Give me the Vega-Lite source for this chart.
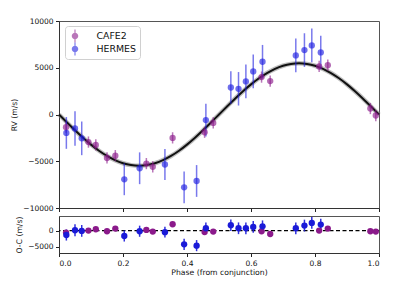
{
  "$schema": "https://vega.github.io/schema/vega-lite/v6.json",
  "padding": {"left": 10, "top": 16, "right": 15, "bottom": 14},
  "spacing": 2,
  "config": {
    "font": "DejaVu Sans",
    "view": {"stroke": "#555", "strokeWidth": 1},
    "axis": {
      "grid": false,
      "domainColor": "#333",
      "tickColor": "#222",
      "tickSize": 3.5,
      "labelFont": "DejaVu Sans",
      "labelFontSize": 7.5,
      "labelColor": "#111",
      "labelPadding": 2.5,
      "titleFont": "DejaVu Sans",
      "titleFontSize": 7.7,
      "titleFontWeight": "normal",
      "titleColor": "#111"
    }
  },
  "datasets": {
    "obs": [
      {"phase": 0.022, "rv": -1360, "err": 600, "oc": -610, "inst": "CAFE2"},
      {"phase": 0.092, "rv": -2950, "err": 600, "oc": 0, "inst": "CAFE2"},
      {"phase": 0.115, "rv": -3250, "err": 600, "oc": 400, "inst": "CAFE2"},
      {"phase": 0.150, "rv": -4650, "err": 600, "oc": -200, "inst": "CAFE2"},
      {"phase": 0.176, "rv": -4400, "err": 600, "oc": 600, "inst": "CAFE2"},
      {"phase": 0.273, "rv": -5250, "err": 600, "oc": 200, "inst": "CAFE2"},
      {"phase": 0.293, "rv": -5600, "err": 600, "oc": -300, "inst": "CAFE2"},
      {"phase": 0.355, "rv": -2500, "err": 600, "oc": 1930, "inst": "CAFE2"},
      {"phase": 0.455, "rv": -1900, "err": 600, "oc": -430, "inst": "CAFE2"},
      {"phase": 0.482, "rv": -900, "err": 600, "oc": -300, "inst": "CAFE2"},
      {"phase": 0.633, "rv": 4000, "err": 600, "oc": -200, "inst": "CAFE2"},
      {"phase": 0.660, "rv": 3570, "err": 600, "oc": -1040, "inst": "CAFE2"},
      {"phase": 0.813, "rv": 5140, "err": 600, "oc": 0, "inst": "CAFE2"},
      {"phase": 0.840, "rv": 5280, "err": 600, "oc": 600, "inst": "CAFE2"},
      {"phase": 0.973, "rv": 640, "err": 600, "oc": -200, "inst": "CAFE2"},
      {"phase": 0.990, "rv": -110, "err": 600, "oc": -300, "inst": "CAFE2"},
      {"phase": 0.023, "rv": -1970, "err": 1700, "oc": -1350, "inst": "HERMES"},
      {"phase": 0.050, "rv": -1500, "err": 1850, "oc": 100, "inst": "HERMES"},
      {"phase": 0.071, "rv": -2550, "err": 1800, "oc": -100, "inst": "HERMES"},
      {"phase": 0.204, "rv": -6930, "err": 1700, "oc": -1650, "inst": "HERMES"},
      {"phase": 0.252, "rv": -5750, "err": 1700, "oc": -200, "inst": "HERMES"},
      {"phase": 0.331, "rv": -5350, "err": 1650, "oc": -500, "inst": "HERMES"},
      {"phase": 0.391, "rv": -7790, "err": 1700, "oc": -4200, "inst": "HERMES"},
      {"phase": 0.430, "rv": -7110, "err": 1700, "oc": -4600, "inst": "HERMES"},
      {"phase": 0.459, "rv": -600, "err": 1750, "oc": 700, "inst": "HERMES"},
      {"phase": 0.537, "rv": 2890, "err": 1740, "oc": 1630, "inst": "HERMES"},
      {"phase": 0.561, "rv": 2750, "err": 1790, "oc": 700, "inst": "HERMES"},
      {"phase": 0.584, "rv": 3540, "err": 1800, "oc": 700, "inst": "HERMES"},
      {"phase": 0.607, "rv": 4610, "err": 1800, "oc": 1100, "inst": "HERMES"},
      {"phase": 0.636, "rv": 5640, "err": 1800, "oc": 1300, "inst": "HERMES"},
      {"phase": 0.740, "rv": 6320, "err": 1800, "oc": 700, "inst": "HERMES"},
      {"phase": 0.767, "rv": 6890, "err": 1800, "oc": 1530, "inst": "HERMES"},
      {"phase": 0.790, "rv": 7390, "err": 1800, "oc": 2330, "inst": "HERMES"},
      {"phase": 0.818, "rv": 6640, "err": 1790, "oc": 1840, "inst": "HERMES"}
    ],
    "model": [
      {"phase": 0.000, "rv": 0},
      {"phase": 0.025, "rv": -857},
      {"phase": 0.050, "rv": -1693},
      {"phase": 0.075, "rv": -2488},
      {"phase": 0.100, "rv": -3221},
      {"phase": 0.125, "rv": -3875},
      {"phase": 0.150, "rv": -4433},
      {"phase": 0.175, "rv": -4883},
      {"phase": 0.200, "rv": -5212},
      {"phase": 0.225, "rv": -5413},
      {"phase": 0.250, "rv": -5480},
      {"phase": 0.275, "rv": -5413},
      {"phase": 0.300, "rv": -5212},
      {"phase": 0.325, "rv": -4883},
      {"phase": 0.350, "rv": -4433},
      {"phase": 0.375, "rv": -3875},
      {"phase": 0.400, "rv": -3221},
      {"phase": 0.425, "rv": -2488},
      {"phase": 0.450, "rv": -1693},
      {"phase": 0.475, "rv": -857},
      {"phase": 0.500, "rv": 0},
      {"phase": 0.525, "rv": 857},
      {"phase": 0.550, "rv": 1693},
      {"phase": 0.575, "rv": 2488},
      {"phase": 0.600, "rv": 3221},
      {"phase": 0.625, "rv": 3875},
      {"phase": 0.650, "rv": 4433},
      {"phase": 0.675, "rv": 4883},
      {"phase": 0.700, "rv": 5212},
      {"phase": 0.725, "rv": 5413},
      {"phase": 0.750, "rv": 5480},
      {"phase": 0.775, "rv": 5413},
      {"phase": 0.800, "rv": 5212},
      {"phase": 0.825, "rv": 4883},
      {"phase": 0.850, "rv": 4433},
      {"phase": 0.875, "rv": 3875},
      {"phase": 0.900, "rv": 3221},
      {"phase": 0.925, "rv": 2488},
      {"phase": 0.950, "rv": 1693},
      {"phase": 0.975, "rv": 857},
      {"phase": 1.000, "rv": 0}
    ]
  },
  "vconcat": [
    {
      "width": 320,
      "height": 187,
      "encoding": {
        "x": {"field": "phase", "type": "quantitative",
              "scale": {"domain": [0, 1], "nice": false, "zero": false},
              "axis": {"labels": false, "title": null, "values": [0, 0.2, 0.4, 0.6, 0.8, 1.0]}}
      },
      "layer": [
        {
          "data": {"name": "model"},
          "mark": {"type": "line", "color": "#888", "strokeWidth": 4.5, "opacity": 0.55, "interpolate": "monotone"},
          "encoding": {
            "y": {"field": "rv", "type": "quantitative",
                  "scale": {"domain": [-10000, 10000], "nice": false},
                  "axis": {"title": "RV (m/s)", "format": "d", "values": [-10000, -7500, -5000, -2500, 0, 2500, 5000, 7500, 10000]}}
          }
        },
        {
          "data": {"name": "model"},
          "mark": {"type": "line", "color": "#111", "strokeWidth": 2, "interpolate": "monotone"},
          "encoding": {"y": {"field": "rv", "type": "quantitative"}}
        },
        {
          "data": {"name": "obs"},
          "transform": [
            {"calculate": "datum.rv - datum.err", "as": "lo"},
            {"calculate": "datum.rv + datum.err", "as": "hi"}
          ],
          "mark": {"type": "rule", "strokeWidth": 1.5, "opacity": 0.6},
          "encoding": {
            "y": {"field": "lo", "type": "quantitative"},
            "y2": {"field": "hi"},
            "color": {"field": "inst", "type": "nominal", "scale": {"domain": ["CAFE2", "HERMES"], "range": ["#8b1a8b", "#1f1fe0"]}}
          }
        },
        {
          "data": {"name": "obs"},
          "mark": {"type": "point", "filled": true, "size": 40, "opacity": 0.65},
          "encoding": {
            "y": {"field": "rv", "type": "quantitative"},
            "color": {"field": "inst", "type": "nominal",
                      "scale": {"domain": ["CAFE2", "HERMES"], "range": ["#8b1a8b", "#1f1fe0"]},
                      "legend": {
                        "title": null, "orient": "none", "legendX": 6, "legendY": 5,
                        "symbolType": "M-0.09,-1L0.09,-1L0.09,1L-0.09,1Z M0.5,0A0.5,0.5,0,1,1,-0.5,0A0.5,0.5,0,1,1,0.5,0Z",
                        "symbolSize": 169, "symbolStrokeWidth": 0, "symbolOpacity": 0.65,
                        "labelFontSize": 9.4, "labelFont": "DejaVu Sans", "labelColor": "#111", "labelOffset": 15,
                        "rowPadding": 0,
                        "padding": 3.5, "strokeColor": "#d0d0d0", "fillColor": "white", "cornerRadius": 3
                      }}
          }
        }
      ]
    },
    {
      "width": 320,
      "height": 37,
      "layer": [
        {
          "data": {"values": [{"zero": 0}]},
          "mark": {"type": "rule", "color": "black", "strokeDash": [4, 2.5], "strokeWidth": 1.2},
          "encoding": {"y": {"field": "zero", "type": "quantitative",
                             "scale": {"domain": [-6850, 4450], "nice": false, "zero": false},
                             "axis": {"title": "O-C (m/s)", "format": "d", "values": [-5000, 0]}}}
        },
        {
          "data": {"name": "obs"},
          "transform": [
            {"calculate": "datum.oc - datum.err", "as": "lo"},
            {"calculate": "datum.oc + datum.err", "as": "hi"}
          ],
          "mark": {"type": "rule", "strokeWidth": 1.5, "opacity": 0.9},
          "encoding": {
            "x": {"field": "phase", "type": "quantitative",
                  "scale": {"domain": [0, 1], "nice": false, "zero": false},
                  "axis": {"title": "Phase (from conjunction)", "values": [0, 0.2, 0.4, 0.6, 0.8, 1.0], "format": ".1f", "titlePadding": 2}},
            "y": {"field": "lo", "type": "quantitative"},
            "y2": {"field": "hi"},
            "color": {"field": "inst", "type": "nominal", "scale": {"domain": ["CAFE2", "HERMES"], "range": ["#8b1a8b", "#1a1ad8"]}, "legend": null}
          }
        },
        {
          "data": {"name": "obs"},
          "mark": {"type": "point", "filled": true, "size": 40, "opacity": 1},
          "encoding": {
            "x": {"field": "phase", "type": "quantitative"},
            "y": {"field": "oc", "type": "quantitative"},
            "color": {"field": "inst", "type": "nominal", "scale": {"domain": ["CAFE2", "HERMES"], "range": ["#8b1a8b", "#1a1ad8"]}, "legend": null}
          }
        }
      ]
    }
  ],
  "resolve": {"scale": {"color": "independent"}}
}
